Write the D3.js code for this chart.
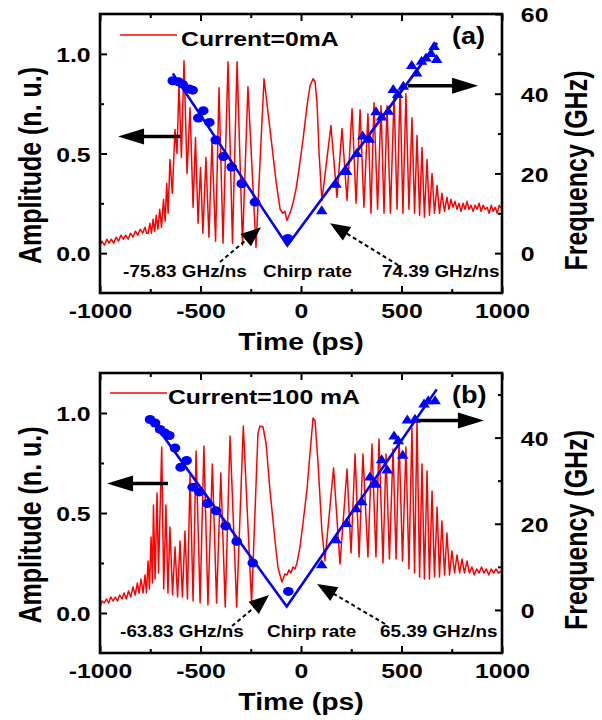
<!DOCTYPE html>
<html>
<head>
<meta charset="utf-8">
<script src="https://cdn.jsdelivr.net/npm/d3@7"></script>
<style>
body { margin: 0; background: #fff; }
text { font-family: "Liberation Sans", Arial, sans-serif; font-weight: bold; }
</style>
</head>
<body>
<div id="chart"></div>
<script>
// axis ticks
var timeTicks = [-1000, -500, 0, 500, 1000],
    timeMinor = [-750, -250, 250, 750],
    ampTicks = [0, 0.5, 1.0],
    ampMinor = [0.25, 0.75];

// (a) Current=0mA : time (ps), amplitude (n. u.)
var signalA = [[-1000,0.04],[-990,0.06],[-978,0.04],[-966,0.07],[-955,0.05],[-944,0.07],[-932,0.05],[-920,0.08],[-908,0.06],[-896,0.09],[-884,0.07],[-872,0.09],[-860,0.07],[-848,0.1],[-836,0.08],[-824,0.11],[-812,0.09],[-800,0.12],[-788,0.1],[-776,0.13],[-768,0.1],
  [-760,0.1],[-752,0.15],[-744,0.1],[-736,0.17],[-728,0.11],[-720,0.19],[-712,0.12],[-703,0.22],[-694,0.13],[-684,0.27],[-676,0.16],[-668,0.35],[-661,0.2],[-652,0.47],[-640,0.3],[-627,0.62],[-617,0.5],[-607,0.85],[-595,0.48],[-582,0.965],[-567,0.4],[-552,0.73],[-537,0.23],[-525,0.58],[-512,0.15],[-500,0.43],[-488,0.1],[-473,0.48],[-458,0.08],[-443,0.56],[-425,0.06],[-408,0.83],[-388,0.05],[-363,0.96],[-341,0.05],[-318,0.96],[-291,0.04],[-264,0.835],[-224,0.03],[-184,0.875],
  [-154,0.62],[-124,0.36],[-104,0.22],[-90,0.2],[-80,0.21],[-70,0.165],[-55,0.2],[-40,0.25],[-25,0.32],[-10,0.42],[10,0.57],[30,0.74],[45,0.84],[60,0.875],[70,0.86],[80,0.75],[90,0.5],[104,0.265],
  [149,0.64],[179,0.28],[204,0.625],[229,0.265],[254,0.725],[274,0.25],[294,0.72],[313,0.23],[333,0.7],[348,0.2],[363,0.755],[381,0.22],[398,0.74],[413,0.2],[428,0.74],[445,0.2],[463,0.79],[478,0.22],[493,0.83],[507,0.2],[522,0.8],[537,0.22],[552,0.68],[565,0.2],[577,0.59],[590,0.19],[602,0.53],[614,0.18],[627,0.47],[639,0.19],[652,0.4],[664,0.2],[677,0.34],[689,0.2],[701,0.3],[714,0.21],[726,0.28],[736,0.22],[746,0.27],
  [756,0.23],[766,0.26],[776,0.22],[786,0.25],[796,0.21],[806,0.25],[816,0.22],[826,0.26],[836,0.22],[846,0.24],[856,0.21],[866,0.24],[876,0.22],[886,0.25],[896,0.21],[906,0.24],[916,0.22],[926,0.23],[936,0.2],[946,0.24],[956,0.21],[966,0.23],[976,0.2],[986,0.24],[1000,0.22]];
// time (ps), frequency (GHz)
var circlesA = [[-638,43.25],[-610,43.0],[-589,42.4],[-556,41.2],[-539,40.9],[-511,33.9],[-486,35.75],[-456,32.8],[-424,28.4],[-386,24.25],[-345,21.6],[-295,17.4],[-229,12.8],[-66,3.7]];
var trianglesA = [[103,10.75],[174,17.4],[227,20.6],[277,25.1],[307,29.5],[340,28.7],[373,35.6],[401,34.3],[434,35.75],[459,41.2],[481,39.9],[509,42],[551,47.2],[575,45.3],[600,48.25],[622,49.1],[647,50.2],[662,52],[675,48.7]];
var fitA = [[-638,45.1],[-68,1.9],[677,52.75]];

// (b) Current=100 mA
var signalB = [[-1000,0.03],[-990,0.06],[-979,0.05],[-968,0.07],[-957,0.05],[-946,0.08],[-935,0.06],[-924,0.08],[-913,0.06],[-902,0.09],[-891,0.07],[-880,0.1],[-869,0.07],[-858,0.11],[-847,0.08],[-836,0.13],[-825,0.09],[-814,0.15],[-805,0.1],
  [-796,0.17],[-786,0.1],[-776,0.19],[-769,0.1],[-761,0.26],[-754,0.12],[-746,0.38],[-739,0.15],[-734,0.54],[-726,0.17],[-716,0.6],[-709,0.2],[-693,0.83],[-683,0.12],[-672,0.54],[-662,0.1],[-652,0.43],[-639,0.09],[-627,0.33],[-614,0.08],[-602,0.36],[-590,0.08],[-577,0.41],[-565,0.07],[-552,0.69],[-537,0.06],[-522,0.81],[-502,0.05],[-483,0.835],[-463,0.04],[-441,0.745],[-420,0.05],[-399,0.7],[-377,0.03],[-353,0.885],[-320,0.03],[-287,0.935],[-246,0.05],[-214,0.9],[-204,0.935],[-189,0.93],[-174,0.85],
  [-154,0.61],[-129,0.36],[-114,0.225],[-95,0.155],[-80,0.195],[-70,0.19],[-60,0.215],[-50,0.2],[-40,0.23],[-30,0.22],[-20,0.25],[-5,0.33],[10,0.45],[30,0.62],[45,0.8],[60,0.975],[70,0.96],[85,0.745],[104,0.41],[119,0.26],
  [162,0.725],[194,0.245],[229,0.72],[249,0.3],[269,0.795],[289,0.28],[308,0.795],[333,0.28],[353,0.845],[373,0.28],[388,0.87],[408,0.25],[423,0.795],[440,0.27],[458,0.82],[473,0.27],[488,0.87],[505,0.26],[522,0.83],[537,0.22],[552,0.925],[565,0.2],[577,0.96],[590,0.18],[602,0.745],[614,0.17],[627,0.71],[639,0.17],[652,0.61],[664,0.18],[677,0.53],[689,0.18],[701,0.46],[714,0.19],[726,0.4],[739,0.19],[751,0.31],[764,0.2],[776,0.29],[789,0.2],[801,0.27],[813,0.2],[826,0.26],
  [838,0.2],[850,0.23],[862,0.19],[874,0.22],[886,0.2],[898,0.23],[910,0.2],[922,0.22],[934,0.19],[946,0.22],[958,0.2],[970,0.22],[982,0.2],[1000,0.21]];
var circlesB = [[-751,44.2],[-726,43.4],[-701,41.9],[-677,41.1],[-655,40.5],[-627,37.6],[-599,33.1],[-569,34.7],[-539,28.5],[-506,27.4],[-466,24.7],[-423,23.0],[-375,19.5],[-320,15.9],[-240,10.9],[-63,4.3]];
var trianglesB = [[103,10.6],[174,16.4],[227,20.2],[274,23.6],[302,25.2],[343,31],[373,29.3],[401,35],[429,32.6],[463,40.5],[484,39.4],[506,36],[529,44.2],[567,44.4],[612,47.9],[633,48.7],[667,48.7]];
var fitB = [[-751,44.6],[-71,0.77],[675,51.2]];

// drawing params
const W = 602, H = 720,
    SX = 1.18, // the figure is stretched horizontally
    red = "#ff0000",
    blue = "#0000ff",
    fontStack = '"Liberation Sans", Arial, sans-serif';

var svg = d3.select("#chart").append("svg")
    .attr("width", W)
    .attr("height", H);
svg.append("rect").attr("width", W).attr("height", H).attr("fill", "#fff");

// text with the horizontal stretch of the original
function label(g, x, y, str, size, anchor, rot, sx) {
    return g.append("text")
        .attr("transform", "translate(" + x + "," + y + ") scale(" + (sx || SX) + ",1)" + (rot ? " rotate(" + rot + ")" : ""))
        .attr("font-size", size)
        .attr("text-anchor", anchor || "start")
        .text(str);
}

// arrow with filled head, from (x1,y1) to tip (x2,y2)
function arrow(g, x1, y1, x2, y2, hl, hw, sw, dash) {
    var dx = x2 - x1, dy = y2 - y1, len = Math.hypot(dx, dy),
        ux = dx / len, uy = dy / len, nx = -uy, ny = ux,
        bx = x2 - hl * ux, by = y2 - hl * uy;
    g.append("line")
        .attr("x1", x1).attr("y1", y1)
        .attr("x2", bx + ux * 2).attr("y2", by + uy * 2)
        .attr("stroke", "#000")
        .attr("stroke-width", sw)
        .attr("stroke-dasharray", dash || null);
    g.append("path")
        .attr("d", "M" + x2 + "," + y2 + "L" + (bx + hw * nx) + "," + (by + hw * ny) + "L" + (bx - hw * nx) + "," + (by - hw * ny) + "Z")
        .attr("fill", "#000");
}

function styleAxis(sel) {
    sel.attr("font-family", fontStack).attr("font-size", 21);
    sel.select(".domain").remove();
    sel.selectAll("line").attr("stroke", "#000").attr("stroke-width", 2);
}

function drawPanel(p) {
    var g = svg.append("g");
    var x = d3.scaleLinear().domain([-1000, 1000]).range([100, 502]);
    var yA = d3.scaleLinear().domain([-0.2, 1.2]).range([p.bottom, p.top]);
    var yF = d3.scaleLinear().domain(p.freqDomain).range([p.bottom, p.top]);

    // red signal
    g.append("path")
        .datum(p.signal)
        .attr("d", d3.line().x(d => x(d[0])).y(d => yA(d[1])))
        .attr("fill", "none")
        .attr("stroke", red)
        .attr("stroke-width", 1.5)
        .attr("stroke-linejoin", "round");

    // fitted chirp lines
    g.append("path")
        .datum(p.fit)
        .attr("d", d3.line().x(d => x(d[0])).y(d => yF(d[1])))
        .attr("fill", "none")
        .attr("stroke", blue)
        .attr("stroke-width", 2.6);

    // measured frequencies
    g.selectAll(".dot").data(p.circles).enter().append("ellipse")
        .attr("cx", d => x(d[0])).attr("cy", d => yF(d[1]))
        .attr("rx", 5.3).attr("ry", 4.5)
        .attr("fill", blue);
    g.selectAll(".tri").data(p.tris).enter().append("path")
        .attr("transform", d => "translate(" + x(d[0]) + "," + yF(d[1]) + ")")
        .attr("d", "M0,-5L5.8,4L-5.8,4Z")
        .attr("fill", blue);

    // axes, ticks inside
    g.append("g").attr("transform", "translate(0," + p.bottom + ")")
        .call(d3.axisBottom(x).tickValues(timeTicks).tickSize(-7).tickFormat(d => String(d)))
        .call(styleAxis)
        .selectAll("text").attr("y", 25).attr("dy", null).attr("transform", "scale(" + SX + ",1)");
    g.append("g").attr("transform", "translate(0," + p.bottom + ")")
        .call(d3.axisBottom(x).tickValues(timeMinor).tickSize(-4).tickFormat(""))
        .call(styleAxis);
    g.append("g").attr("transform", "translate(0," + p.top + ")")
        .call(d3.axisTop(x).tickValues(timeTicks).tickSize(-7).tickFormat(""))
        .call(styleAxis);
    g.append("g").attr("transform", "translate(0," + p.top + ")")
        .call(d3.axisTop(x).tickValues(timeMinor).tickSize(-4).tickFormat(""))
        .call(styleAxis);
    g.append("g").attr("transform", "translate(100,0)")
        .call(d3.axisLeft(yA).tickValues(ampTicks).tickSize(-7).tickFormat(d => d.toFixed(1)))
        .call(styleAxis)
        .selectAll("text").attr("x", -8).attr("dy", "0.36em").attr("transform", "scale(" + SX + ",1)");
    g.append("g").attr("transform", "translate(100,0)")
        .call(d3.axisLeft(yA).tickValues(ampMinor).tickSize(-4).tickFormat(""))
        .call(styleAxis);
    g.append("g").attr("transform", "translate(502,0)")
        .call(d3.axisRight(yF).tickValues(p.freqTicks).tickSize(-7).tickFormat(d => String(d)))
        .call(styleAxis)
        .selectAll("text").attr("x", 16).attr("dy", "0.36em").attr("transform", "scale(" + SX + ",1)");
    g.append("g").attr("transform", "translate(502,0)")
        .call(d3.axisRight(yF).tickValues(p.freqMinor).tickSize(-4).tickFormat(""))
        .call(styleAxis);

    // frame
    g.append("rect")
        .attr("x", 100).attr("y", p.top)
        .attr("width", 402).attr("height", p.bottom - p.top)
        .attr("fill", "none")
        .attr("stroke", "#000")
        .attr("stroke-width", 2.6);

    // axis titles
    label(g, 301, p.bottom + 57, "Time (ps)", 24, "middle");
    label(g, 41, (p.top + p.bottom) / 2 + 12, "Amplitude (n. u.)", 25, "middle", -90, 1.25);
    label(g, 587, (p.top + p.bottom) / 2 + 17, "Frequency (GHz)", 25, "middle", -90, 1.25);

    // legend and tag
    g.append("line")
        .attr("x1", x(p.legend[0])).attr("x2", x(p.legend[1]))
        .attr("y1", p.top + p.legendDy).attr("y2", p.top + p.legendDy)
        .attr("stroke", red).attr("stroke-width", 1.5);
    label(g, x(p.legend[2]), p.top + p.legendDy + 11, p.legendText, 21);
    label(g, x(751), p.top + 30, p.tag, 23);

    // direction arrows
    arrow(g, x(p.arrowL[0]), yA(p.arrowL[2]), x(p.arrowL[1]), yA(p.arrowL[2]), 26, 8, 3.5);
    arrow(g, x(p.arrowR[0]), yA(p.arrowR[2]), x(p.arrowR[1]), yA(p.arrowR[2]), 26, 8, 3.5);

    // chirp rate annotations
    var ty = p.bottom - 16;
    label(g, x(p.rateX[0]), ty, p.rateL, 16);
    label(g, x(p.rateX[1]), ty, "Chirp rate", 16);
    label(g, x(p.rateX[2]), ty, p.rateR, 16);
    arrow(g, x(p.dashL[0][0]), yA(p.dashL[0][1]), x(p.dashL[1][0]), yA(p.dashL[1][1]), 20, 8, 2, "4,3");
    arrow(g, x(p.dashR[0][0]), yA(p.dashR[0][1]), x(p.dashR[1][0]), yA(p.dashR[1][1]), 20, 8, 2, "4,3");
}

drawPanel({
    top: 14, bottom: 293,
    freqDomain: [-10, 60], freqTicks: [0, 20, 40, 60], freqMinor: [10, 30, 50],
    signal: signalA, circles: circlesA, tris: trianglesA, fit: fitA,
    legend: [-900, -617, -597], legendDy: 21, legendText: "Current=0mA", tag: "(a)",
    arrowL: [-602, -910, 0.585], arrowR: [532, 881, 0.84],
    rateX: [-885, -189, 403], rateL: "-75.83 GHz/ns", rateR: "74.39 GHz/ns",
    dashL: [[-403, -0.045], [-199, 0.13]], dashR: [[483, -0.06], [144, 0.15]]
});
drawPanel({
    top: 373, bottom: 653,
    freqDomain: [-10, 55], freqTicks: [0, 20, 40], freqMinor: [10, 30, 50],
    signal: signalB, circles: circlesB, tris: trianglesB, fit: fitB,
    legend: [-950, -667, -662], legendDy: 20, legendText: "Current=100 mA", tag: "(b)",
    arrowL: [-662, -965, 0.647], arrowR: [577, 910, 0.962],
    rateX: [-900, -169, 393], rateL: "-63.83 GHz/ns", rateR: "65.39 GHz/ns",
    dashL: [[-343, -0.065], [-159, 0.09]], dashR: [[418, -0.055], [80, 0.145]]
});
</script>
</body>
</html>
